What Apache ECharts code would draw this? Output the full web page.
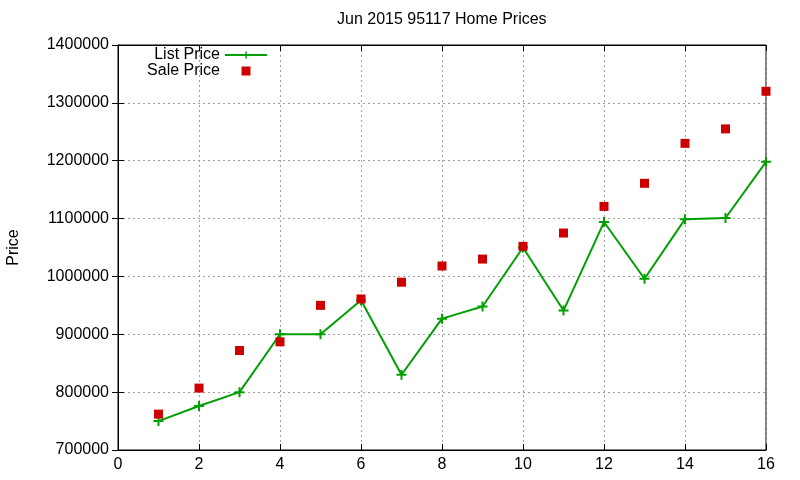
<!DOCTYPE html>
<html>
<head>
<meta charset="utf-8">
<script src="https://cdn.jsdelivr.net/npm/echarts@6/dist/echarts.min.js"></script>
<style>
  html, body { margin: 0; padding: 0; background: #fff; }
  #chart { width: 800px; height: 480px; }
</style>
</head>
<body>
<div id="chart"></div>
<script>
// values
var months = [1, 2, 3, 4, 5, 6, 7, 8, 9, 10, 11, 12, 13, 14, 15, 16];
var listPrice = [750000, 776000, 800000, 900000, 900000, 959000, 830000, 927000,
                 948000, 1050000, 941000, 1094000, 996000, 1099000, 1101000, 1198000];
var salePrice = [762000, 807000, 872000, 887000, 950000, 961000, 990000, 1018000,
                 1030000, 1052000, 1075000, 1121000, 1161000, 1230000, 1255000, 1320000];

var font = 'Liberation Sans, Arial, sans-serif';

function pairs(xs, ys) {
    return xs.map(function(x, i) { return [x, ys[i]]; });
}

var dom = document.getElementById('chart');
var myChart = echarts.init(dom);

var gridLine = { show: true, lineStyle: { color: '#a0a0a0', type: [2, 3], width: 1 } };
var tick = { show: true, inside: true, length: 6, lineStyle: { color: '#000' } };
var plus = 'path://M4,0H6V4H10V6H6V10H4V6H0V4H4Z';
// square in the middle of a 42 wide legend slot (corner points only widen the box)
var squareIcon = 'path://M0,0L0,0M42,9L42,9M16.5,0H25.5V9H16.5Z';

var option = {
    animation: false,
    backgroundColor: '#fff',
    textStyle: { fontFamily: font },
    title: {
        text: 'Jun 2015 95117 Home Prices',
        left: 332, top: 7,
        textStyle: { fontSize: 16, fontWeight: 'normal', color: '#000', fontFamily: font }
    },
    legend: {
        right: 527, top: 42,
        orient: 'vertical',
        align: 'right',
        itemWidth: 42, itemHeight: 9, itemGap: 0,
        textStyle: { fontSize: 16, color: '#000', fontFamily: font },
        data: ['List Price', { name: 'Sale Price', icon: squareIcon }]
    },
    grid: {
        left: 118, right: 34, top: 45, bottom: 30,
        outerBoundsMode: 'none',
        show: true, borderColor: '#000', borderWidth: 1
    },
    xAxis: [{
        type: 'value', min: 0, max: 16, interval: 2,
        axisLine: { show: true, lineStyle: { color: '#000' } },
        axisTick: tick,
        splitLine: gridLine,
        axisLabel: { color: '#000', fontSize: 16, margin: 7, fontFamily: font }
    }, {
        type: 'value', position: 'top', min: 0, max: 16, interval: 2,
        axisLine: { show: true, lineStyle: { color: '#000' } },
        axisTick: tick, splitLine: { show: false }, axisLabel: { show: false }
    }],
    yAxis: [{
        type: 'value', min: 700000, max: 1400000, interval: 100000,
        name: 'Price', nameLocation: 'middle', nameGap: 96, nameRotate: 90,
        nameTextStyle: { fontSize: 16, color: '#000', fontFamily: font },
        axisLine: { show: true, lineStyle: { color: '#000' } },
        axisTick: tick,
        splitLine: gridLine,
        axisLabel: {
            color: '#000', fontSize: 16, margin: 9, fontFamily: font,
            formatter: function(v) { return String(v); }
        }
    }, {
        type: 'value', position: 'right', min: 700000, max: 1400000, interval: 100000,
        axisLine: { show: true, lineStyle: { color: '#000' } },
        axisTick: tick, splitLine: { show: false }, axisLabel: { show: false }
    }],
    series: [{
        name: 'List Price',
        type: 'line',
        data: pairs(months, listPrice),
        symbol: plus,
        symbolSize: 10,
        showAllSymbol: true,
        lineStyle: { color: '#00a000', width: 2 },
        itemStyle: { color: '#00a000' },
        z: 3
    }, {
        name: 'Sale Price',
        type: 'scatter',
        data: pairs(months, salePrice),
        symbol: 'rect',
        symbolSize: 9,
        itemStyle: { color: '#cc0000', opacity: 1 },
        z: 4
    }]
};

myChart.setOption(option, true);
</script>
</body>
</html>
